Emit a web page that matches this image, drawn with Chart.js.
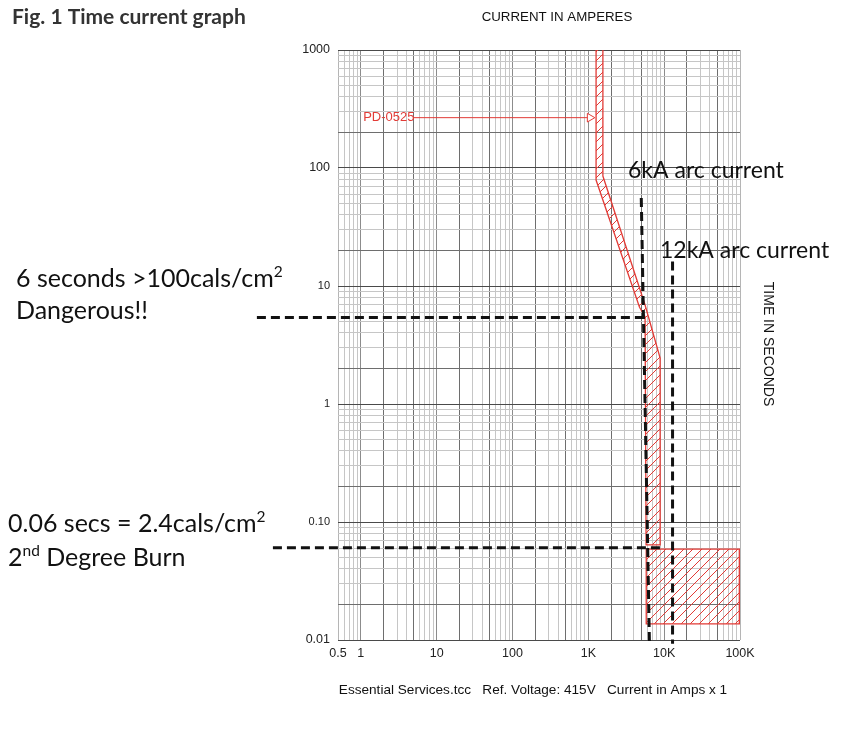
<!DOCTYPE html>
<html>
<head>
<meta charset="utf-8">
<script src="https://cdn.jsdelivr.net/npm/chart.js@4.4.1/dist/chart.umd.min.js"></script>
<style>
  html, body { margin: 0; padding: 0; background: #fff; }
  canvas { display: block; }
</style>
</head>
<body>
<canvas id="tcc" width="857" height="745"></canvas>
<script>
// tick labels
const xTickValues = [0.5, 1, 10, 100, 1000, 10000, 100000];
const xTickLabels = ["0.5", "1", "10", "100", "1K", "10K", "100K"];
const yTickValues = [1000, 100, 10, 1, 0.1, 0.01];
const yTickLabels = ["1000", "100", "10", "1", "0.10", "0.01"];

// PD-0525 curve band (amps, seconds), traced round the outline
const bandAmps = [1265, 1265, 4730, 5600, 5780, 8850, 8850, 5600, 1556, 1556];
const bandSecs = [1000, 79, 6.6, 5.5, 0.064, 0.064, 2.45, 6.9, 85.5, 1000];

// hatched box bottom right
const boxAmps = [5800, 98000, 98000, 5800, 5800];
const boxSecs = [0.059, 0.059, 0.0137, 0.0137, 0.059];

// dashed marker lines
const arc6kAmps = [4990, 6400];
const arc6kSecs = [55.7, 0.0091];
const arc12kAmps = [12900, 12900];
const arc12kSecs = [16.1, 0.0093];
const sixSecAmps = [0.0426, 5190];
const sixSecSecs = [5.41, 5.41];
const burnAmps = [0.0693, 10160];
const burnSecs = [0.0605, 0.0605];

// PD-0525 pointer
const pointerAmps = [4.95, 1047];
const pointerSecs = [267, 267];

const red = "#e23b36";

const pts = (xs, ys) => xs.map((x, i) => ({ x: x, y: ys[i] }));

function logTicks(min, max) {
  const out = [];
  for (let e = Math.floor(Math.log10(min)); e <= Math.ceil(Math.log10(max)); e++) {
    for (let m = 1; m <= 9; m++) {
      const v = parseFloat((m * Math.pow(10, e)).toPrecision(6));
      if (v >= min * 0.999 && v <= max * 1.001) out.push({ value: v });
    }
  }
  return out;
}

function mant(v) {
  return Math.round(v / Math.pow(10, Math.floor(Math.log10(v) + 1e-9)));
}

function labelFor(values, labels, v) {
  const i = values.findIndex(t => Math.abs(t / v - 1) < 1e-6);
  return i < 0 ? "" : labels[i];
}

function hatchPattern(ctx) {
  const c = document.createElement("canvas");
  c.width = 9; c.height = 9;
  const p = c.getContext("2d");
  p.strokeStyle = red;
  p.lineWidth = 1;
  p.beginPath();
  p.moveTo(0, 9); p.lineTo(9, 0);
  p.moveTo(-1, 1); p.lineTo(1, -1);
  p.moveTo(8, 10); p.lineTo(10, 8);
  p.stroke();
  return ctx.createPattern(c, "repeat");
}

// fills the hatched shapes from the dataset's own points
const hatchPlugin = {
  id: "hatch",
  beforeDatasetDraw(chart, args) {
    const ds = chart.data.datasets[args.index];
    if (!ds.hatch) return;
    const ctx = chart.ctx;
    const p = args.meta.data;
    ctx.save();
    ctx.beginPath();
    p.forEach((e, i) => (i ? ctx.lineTo(e.x, e.y) : ctx.moveTo(e.x, e.y)));
    ctx.closePath();
    ctx.fillStyle = hatchPattern(ctx);
    ctx.fill();
    ctx.restore();
  }
};

function rich(ctx, parts, x, y, size) {
  let cx = x;
  for (const [t, sup] of parts) {
    ctx.font = (sup ? size * 0.62 : size) + "px Lato";
    ctx.fillText(t, cx, sup ? y - size * 0.4 : y);
    cx += ctx.measureText(t).width;
  }
}

const textPlugin = {
  id: "texts",
  afterDraw(chart) {
    const ctx = chart.ctx;
    const xs = chart.scales.x, ys = chart.scales.y;
    ctx.save();
    ctx.textAlign = "left";
    ctx.textBaseline = "alphabetic";
    ctx.fillStyle = "#333";
    ctx.font = "bold 21px Lato";
    ctx.fillText("Fig. 1 Time current graph", 12, 24);

    ctx.fillStyle = "#111";
    ctx.font = '13.3px "Liberation Sans"';
    ctx.textAlign = "center";
    ctx.fillText("CURRENT IN AMPERES", 557, 21);
    ctx.font = '13.6px "Liberation Sans"';
    ctx.fillText("Essential Services.tcc   Ref. Voltage: 415V   Current in Amps x 1", 533, 694);

    ctx.save();
    ctx.translate(768, 344);
    ctx.rotate(Math.PI / 2);
    ctx.textBaseline = "middle";
    ctx.font = '14px "Liberation Sans"';
    ctx.fillText("TIME IN SECONDS", 0, 0);
    ctx.restore();

    ctx.fillStyle = red;
    ctx.textAlign = "right";
    ctx.textBaseline = "middle";
    ctx.font = '13px "Liberation Sans"';
    ctx.fillText("PD-0525", xs.getPixelForValue(pointerAmps[0]) + 1, ys.getPixelForValue(pointerSecs[0]));

    ctx.fillStyle = "#111";
    ctx.textAlign = "left";
    ctx.textBaseline = "alphabetic";
    rich(ctx, [["6 seconds >100cals/cm"], ["2", true]], 16, 287, 25);
    rich(ctx, [["Dangerous!!"]], 16, 319, 25);
    rich(ctx, [["0.06 secs = 2.4cals/cm"], ["2", true]], 8, 532, 25);
    rich(ctx, [["2"], ["nd", true], [" Degree Burn"]], 8, 566, 25);
    rich(ctx, [["6kA arc current"]], 628, 178, 23);
    rich(ctx, [["12kA arc current"]], 660, 258, 23);
    ctx.restore();
  }
};

const dashed = (data) => ({
  data: data,
  showLine: true,
  borderColor: "#111",
  borderWidth: 3,
  borderDash: [9, 5],
  pointRadius: 0,
  clip: false,
  order: 0
});

new Chart(document.getElementById("tcc"), {
  type: "scatter",
  data: {
    datasets: [
      dashed(pts(arc6kAmps, arc6kSecs)),
      dashed(pts(arc12kAmps, arc12kSecs)),
      dashed(pts(sixSecAmps, sixSecSecs)),
      dashed(pts(burnAmps, burnSecs)),
      {
        data: pts(pointerAmps, pointerSecs),
        showLine: true,
        borderColor: red,
        borderWidth: 1,
        pointRadius: [0, 5],
        pointStyle: "triangle",
        rotation: 90,
        pointBackgroundColor: "#fff",
        pointBorderColor: red,
        pointBorderWidth: 1,
        order: 1
      },
      {
        data: pts(bandAmps, bandSecs),
        showLine: true,
        hatch: true,
        borderColor: red,
        borderWidth: 1.3,
        pointRadius: 0,
        order: 2
      },
      {
        data: pts(boxAmps, boxSecs),
        showLine: true,
        hatch: true,
        borderColor: red,
        borderWidth: 1.3,
        pointRadius: 0,
        order: 2
      }
    ]
  },
  options: {
    responsive: false,
    animation: false,
    layout: { padding: { left: 0, right: 117, top: 50, bottom: 65 } },
    plugins: { legend: { display: false }, tooltip: { enabled: false } },
    scales: {
      x: {
        type: "logarithmic",
        min: 0.5,
        max: 100000,
        afterBuildTicks: (s) => { s.ticks = logTicks(0.5, 100000); },
        afterFit: (s) => { s.height = 40; },
        border: { display: false },
        grid: {
          drawTicks: false,
          color: (c) => {
            const v = c.tick.value;
            if (v === 0.5 || v === 100000) return "#b5b5b5";
            const m = mant(v);
            if (m === 2 || m === 5) return "#6e6e6e";
            if (m === 1) return "#8c8c8c";
            return "#c6c6c6";
          }
        },
        ticks: {
          autoSkip: false,
          maxRotation: 0,
          padding: 6,
          color: "#222",
          font: { family: "Liberation Sans", size: 12.5 },
          callback: (v) => labelFor(xTickValues, xTickLabels, v)
        }
      },
      y: {
        type: "logarithmic",
        min: 0.01,
        max: 1000,
        afterBuildTicks: (s) => { s.ticks = logTicks(0.01, 1000); },
        afterFit: (s) => { s.width = 338; },
        border: { display: false },
        grid: {
          drawTicks: false,
          color: (c) => {
            const m = mant(c.tick.value);
            if (m === 1) return "#4a4a4a";
            if (m === 2) return "#6e6e6e";
            return "#c6c6c6";
          }
        },
        ticks: {
          autoSkip: false,
          padding: 8,
          color: "#222",
          font: (c) => ({
            family: "Liberation Sans",
            size: c.tick && [10, 1, 0.1].includes(c.tick.value) ? 11 : 12.5
          }),
          callback: (v) => labelFor(yTickValues, yTickLabels, v)
        }
      }
    }
  },
  plugins: [hatchPlugin, textPlugin]
});
</script>
</body>
</html>
